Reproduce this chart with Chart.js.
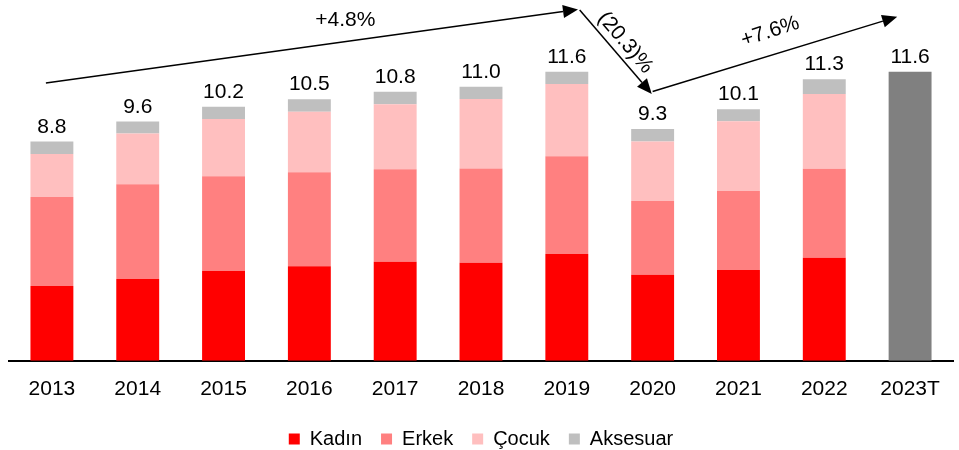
<!DOCTYPE html>
<html>
<head>
<meta charset="utf-8">
<script src="https://cdn.jsdelivr.net/npm/chart.js@4.4.1/dist/chart.umd.min.js"></script>
<style>
  html, body { margin: 0; padding: 0; background: #fff; }
  #wrap { width: 959px; height: 450px; }
</style>
</head>
<body>
<div id="wrap"><canvas id="salesChart"></canvas></div>
<script>
const years = ['2013', '2014', '2015', '2016', '2017', '2018', '2019', '2020', '2021', '2022', '2023T'];
const kadin    = [3.00, 3.28, 3.60, 3.80, 3.98, 3.94, 4.29, 3.45, 3.64, 4.14, null];
const erkek    = [3.57, 3.81, 3.81, 3.77, 3.71, 3.78, 3.92, 2.96, 3.18, 3.57, null];
const cocuk    = [1.73, 2.03, 2.30, 2.43, 2.61, 2.79, 2.90, 2.39, 2.79, 3.00, null];
const aksesuar = [0.50, 0.48, 0.49, 0.50, 0.50, 0.49, 0.49, 0.50, 0.49, 0.59, null];
const target   = [null, null, null, null, null, null, null, null, null, null, 11.6];
const totals   = [8.8, 9.6, 10.2, 10.5, 10.8, 11.0, 11.6, 9.3, 10.1, 11.3, 11.6];

const growthLabels = ['+4.8%', '(20.3)%', '+7.6%'];
// arrows in (category index, value) space
const growthArrows = [
  { from: [-0.07, 11.15], to: [6.13, 14.1], text: [3.42, 13.69], angle: 0 },
  { from: [6.15, 14.08], to: [6.99, 10.71], text: [6.68, 12.77], angle: 49.6 },
  { from: [7.0, 10.81], to: [9.85, 13.81], text: [8.37, 13.21], angle: -18 }
];

const fontFamily = '"Liberation Sans", Arial, sans-serif';

function drawArrow(ctx, x1, y1, x2, y2) {
  const a = Math.atan2(y2 - y1, x2 - x1);
  const len = 15, half = 6.5;
  const bx = x2 - len * Math.cos(a), by = y2 - len * Math.sin(a);
  ctx.beginPath();
  ctx.moveTo(x1, y1);
  ctx.lineTo(bx, by);
  ctx.stroke();
  ctx.beginPath();
  ctx.moveTo(x2, y2);
  ctx.lineTo(bx + half * Math.sin(a), by - half * Math.cos(a));
  ctx.lineTo(bx - half * Math.sin(a), by + half * Math.cos(a));
  ctx.closePath();
  ctx.fill();
}

const overlay = {
  id: 'overlay',
  afterDatasetsDraw(chart) {
    const { ctx, scales: { x, y } } = chart;
    ctx.save();
    ctx.fillStyle = '#000';
    ctx.strokeStyle = '#000';
    ctx.lineWidth = 1.5;
    ctx.font = '21px ' + fontFamily;
    ctx.textAlign = 'center';
    ctx.textBaseline = 'alphabetic';
    totals.forEach((t, i) => {
      ctx.fillText(t.toFixed(1), x.getPixelForValue(i), y.getPixelForValue(t) - 9);
    });

    const px = v => x.getPixelForValue(0) + v * (x.getPixelForValue(1) - x.getPixelForValue(0));
    growthArrows.forEach((g, i) => {
      drawArrow(ctx, px(g.from[0]), y.getPixelForValue(g.from[1]), px(g.to[0]), y.getPixelForValue(g.to[1]));
      ctx.save();
      ctx.translate(px(g.text[0]), y.getPixelForValue(g.text[1]));
      ctx.rotate(g.angle * Math.PI / 180);
      ctx.textBaseline = 'middle';
      ctx.fillText(growthLabels[i], 0, 0);
      ctx.restore();
    });
    ctx.restore();
  }
};

const ctx = document.getElementById('salesChart').getContext('2d');
new Chart(ctx, {
  type: 'bar',
  data: {
    labels: years,
    datasets: [
      { label: 'Kadın', data: kadin, backgroundColor: '#FF0000' },
      { label: 'Erkek', data: erkek, backgroundColor: '#FF8080' },
      { label: 'Çocuk', data: cocuk, backgroundColor: '#FFBFBF' },
      { label: 'Aksesuar', data: aksesuar, backgroundColor: '#BFBFBF' },
      { label: 'Hedef', data: target, backgroundColor: '#808080' }
    ]
  },
  options: {
    responsive: true,
    maintainAspectRatio: false,
    animation: false,
    layout: { padding: { left: 9, right: 6, top: 12, bottom: -9 } },
    datasets: { bar: { barPercentage: 0.5, categoryPercentage: 1 } },
    plugins: {
      tooltip: { enabled: false },
      legend: {
        position: 'bottom',
        labels: {
          filter: item => item.text !== 'Hedef',
          boxWidth: 11,
          boxHeight: 11,
          padding: 19,
          color: '#000',
          font: { size: 20, family: fontFamily }
        }
      }
    },
    scales: {
      x: {
        stacked: true,
        grid: { display: false },
        border: { color: '#000', width: 2 },
        ticks: { color: '#000', padding: 8, font: { size: 21, family: fontFamily } }
      },
      y: { stacked: true, display: false, min: 0, max: 14 }
    }
  },
  plugins: [overlay]
});
</script>
</body>
</html>
